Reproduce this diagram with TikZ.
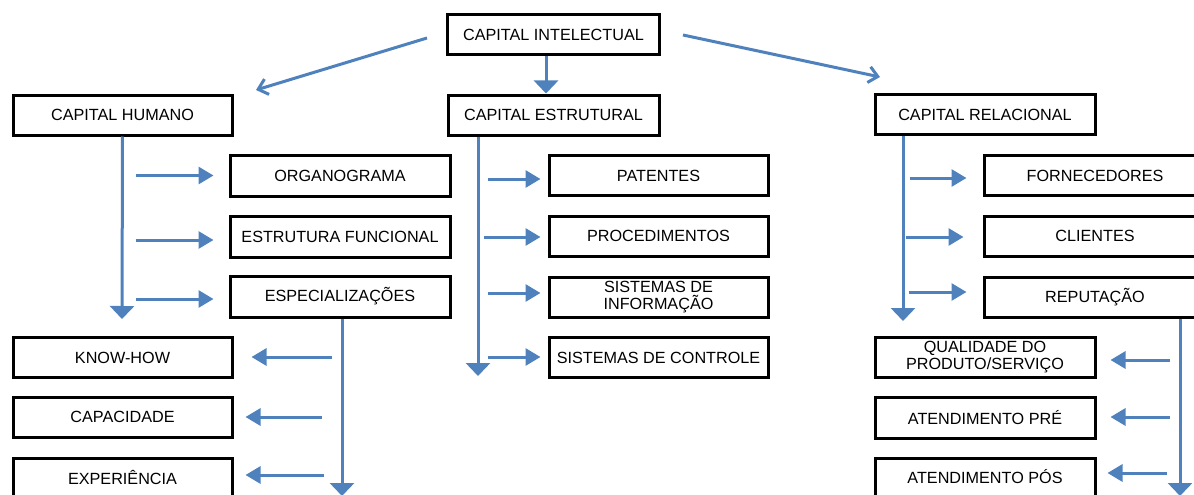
\documentclass[tikz,border=0pt]{standalone}
\usepackage{fontspec}
\setmainfont{Liberation Sans}
\usetikzlibrary{arrows.meta}
\definecolor{arrblue}{HTML}{4F81BD}
\begin{document}
\begin{tikzpicture}[x=1pt,y=-1pt,
  box/.style={draw=black,line width=3pt,fill=white,inner sep=0pt,minimum height=40pt,
    font=\fontsize{16.2}{17}\selectfont,align=center},
  bigarr/.style={draw=arrblue,line width=3pt,-{Triangle[width=24pt,length=13pt]}},
  smallarr/.style={draw=arrblue,line width=3pt,-{Triangle[width=17pt,length=15pt]}},
  diagarr/.style={draw=arrblue,line width=3pt,-{Straight Barb[width=16pt,length=9pt,line width=3pt]}}]
\useasboundingbox (0,0) rectangle (1194,495);
% top level
\node[box,minimum width=212pt] (intel) at (553.5,35) {CAPITAL INTELECTUAL};
\node[box,minimum width=219pt] (humano) at (122.5,115) {CAPITAL HUMANO};
\node[box,minimum width=211pt] (estrut) at (553.5,115) {CAPITAL ESTRUTURAL};
\node[box,minimum width=220pt] (relac) at (985,114.5) {CAPITAL RELACIONAL};
% humano column
\node[box,minimum width=220pt,minimum height=41pt] (organ) at (340,175.5) {ORGANOGRAMA};
\node[box,minimum width=220pt,minimum height=41pt] (estfun) at (340,236.5) {ESTRUTURA FUNCIONAL};
\node[box,minimum width=220pt,minimum height=41pt] (espec) at (340,296.5) {ESPECIALIZAÇÕES};
\node[box,minimum width=219pt] (know) at (122.5,357.5) {KNOW-HOW};
\node[box,minimum width=219pt] (capac) at (122.5,417) {CAPACIDADE};
\node[box,minimum width=219pt,minimum height=38pt] (exper) at (122.5,477) {EXPERIÊNCIA};
% estrutural column
\node[box,minimum width=219pt] (patent) at (658.5,175.5) {PATENTES};
\node[box,minimum width=219pt] (proced) at (658.5,236) {PROCEDIMENTOS};
\node[box,minimum width=219pt,font=\fontsize{16.2}{18}\selectfont] (sisinf) at (658.5,297) {SISTEMAS DE\\[-1pt]INFORMAÇÃO};
\node[box,minimum width=219pt] (siscon) at (658.5,357.5) {SISTEMAS DE CONTROLE};
% relacional column
\node[box,minimum width=222pt] (forn) at (1095,175.5) {FORNECEDORES};
\node[box,minimum width=222pt] (client) at (1095,236) {CLIENTES};
\node[box,minimum width=222pt] (reput) at (1095,297) {REPUTAÇÃO};
\node[box,minimum width=220pt,font=\fontsize{16.2}{18}\selectfont] (qual) at (985,357.5) {QUALIDADE DO\\[-1pt]PRODUTO/SERVIÇO};
\node[box,minimum width=220pt,minimum height=41pt] (atpre) at (985,417.5) {ATENDIMENTO PRÉ};
\node[box,minimum width=220pt,minimum height=38pt] (atpos) at (985,477) {ATENDIMENTO PÓS};
% free ends
\coordinate (hTip) at (256,90);
\coordinate (rTip) at (880,77);
% top arrows
\draw[diagarr] ([xshift=-19pt,yshift=-3pt]intel.west) -- (hTip);
\draw[bigarr] ([xshift=-7.5pt]intel.south) -- ([xshift=-7.5pt]estrut.north);
\draw[diagarr] ([xshift=22pt]intel.east) -- (rTip);
% humano
\coordinate (hEnd) at (122,319);
\draw[bigarr] (humano.south) -- (hEnd);
\draw[smallarr] ([xshift=-93pt]organ.west) -- ([xshift=-15pt]organ.west);
\draw[smallarr] ([xshift=-93pt,yshift=-3.5pt]estfun.west) -- ([xshift=-15pt,yshift=-3.5pt]estfun.west);
\draw[smallarr] ([xshift=-93pt,yshift=-2.5pt]espec.west) -- ([xshift=-15pt,yshift=-2.5pt]espec.west);
% especializacoes
\coordinate (eEnd) at (342,496);
\draw[bigarr] ([xshift=2pt]espec.south) -- (eEnd);
\draw[smallarr] ([xshift=98pt,yshift=0.5pt]know.east) -- ([xshift=18pt,yshift=0.5pt]know.east);
\draw[smallarr] ([xshift=88pt]capac.east) -- ([xshift=12pt]capac.east);
\draw[smallarr] ([xshift=90pt,yshift=2pt]exper.east) -- ([xshift=12pt,yshift=2pt]exper.east);
% estrutural
\coordinate (sEnd) at (478,376);
\draw[bigarr] ([xshift=-75.5pt]estrut.south) -- (sEnd);
\draw[smallarr] ([xshift=-60pt,yshift=-3.5pt]patent.west) -- ([xshift=-7pt,yshift=-3.5pt]patent.west);
\draw[smallarr] ([xshift=-64pt,yshift=-1pt]proced.west) -- ([xshift=-7pt,yshift=-1pt]proced.west);
\draw[smallarr] ([xshift=-60pt,yshift=4pt]sisinf.west) -- ([xshift=-7pt,yshift=4pt]sisinf.west);
\draw[smallarr] ([xshift=-60pt,yshift=0.5pt]siscon.west) -- ([xshift=-7pt,yshift=0.5pt]siscon.west);
% relacional
\coordinate (rEnd) at (903,321);
\draw[bigarr] ([xshift=-82pt]relac.south) -- (rEnd);
\draw[smallarr] ([xshift=-73pt,yshift=-2.5pt]forn.west) -- ([xshift=-16pt,yshift=-2.5pt]forn.west);
\draw[smallarr] ([xshift=-77pt,yshift=-1pt]client.west) -- ([xshift=-19pt,yshift=-1pt]client.west);
\draw[smallarr] ([xshift=-74pt,yshift=5pt]reput.west) -- ([xshift=-16pt,yshift=5pt]reput.west);
% reputacao
\coordinate (pEnd) at (1180,496);
\draw[bigarr] ([xshift=85pt]reput.south) -- (pEnd);
\draw[smallarr] ([xshift=73pt,yshift=-2.5pt]qual.east) -- ([xshift=14pt,yshift=-2.5pt]qual.east);
\draw[smallarr] ([xshift=73pt,yshift=0.5pt]atpre.east) -- ([xshift=14pt,yshift=0.5pt]atpre.east);
\draw[smallarr] ([xshift=70pt,yshift=4pt]atpos.east) -- ([xshift=11pt,yshift=4pt]atpos.east);
\end{tikzpicture}
\end{document}
